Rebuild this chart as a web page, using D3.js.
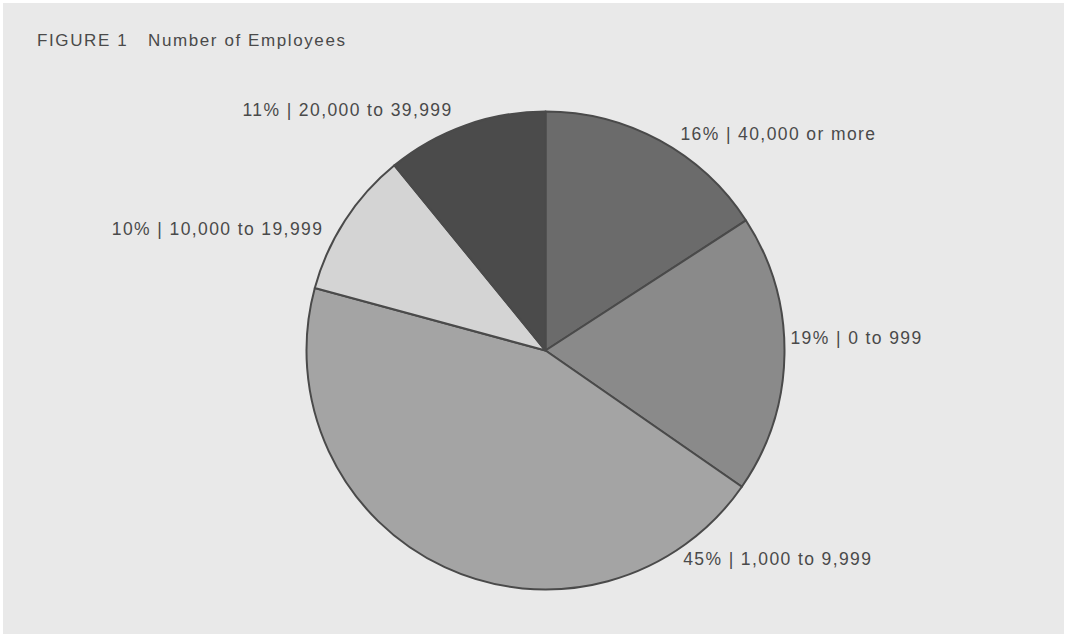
<!DOCTYPE html>
<html>
<head>
<meta charset="utf-8">
<script src="https://cdn.jsdelivr.net/npm/d3@7"></script>
<style>
  html, body { margin: 0; padding: 0; background: #ffffff; }
  svg { display: block; }
  text { font-family: "Liberation Sans", Arial, sans-serif; }
</style>
</head>
<body>
<svg id="chart" width="1067" height="637"></svg>
<script>
// Employee-size bands, clockwise from 12 o'clock
const categories = ["40,000 or more", "0 to 999", "1,000 to 9,999", "10,000 to 19,999", "20,000 to 39,999"];
const percents = [16, 19, 45, 10, 11];
const fills = ["#6b6b6b", "#8a8a8a", "#a4a4a4", "#d4d4d4", "#4b4b4b"];
const title = ["FIGURE 1", "Number of Employees"];

const W = 1067, H = 637;
const cx = 545.5, cy = 350.5, radius = 239;

const svg = d3.select("#chart");

// panel
svg.append("rect").attr("x", 3).attr("y", 3).attr("width", W - 6).attr("height", H - 6)
  .attr("fill", "#e9e9e9");

// title
const t = svg.append("text").attr("x", 37).attr("y", 46)
  .attr("font-size", 17).attr("letter-spacing", 1.6).attr("fill", "#4a4a4a");
t.append("tspan").text(title[0]);
t.append("tspan").attr("x", 148).text(title[1]);

const pie = d3.pie().sort(null).value(d => d);
const arcs = pie(percents);
const arc = d3.arc().innerRadius(0).outerRadius(radius);

const g = svg.append("g").attr("transform", `translate(${cx},${cy})`);

g.selectAll("path.slice").data(arcs).join("path")
  .attr("class", "slice")
  .attr("d", arc)
  .attr("fill", (d, i) => fills[i])
  .attr("stroke", "#4a4a4a")
  .attr("stroke-width", 2)
  .attr("stroke-linejoin", "round");

// labels: placed beside the rim; where along the slice each sits (0..1) and a small nudge
const labelAlong = [0.5, 0.5, 0.135, 0.5, 0.5];
const labelNudge = [[17, 2], [-2, -15], [1, 4], [-15, 14], [-10, -6]];
const labelR = radius + 8;

g.selectAll("text.lbl").data(arcs).join("text")
  .attr("class", "lbl")
  .each(function(d, i) {
    const a = d.startAngle + (d.endAngle - d.startAngle) * labelAlong[i];
    const x = Math.sin(a) * labelR + labelNudge[i][0];
    const y = -Math.cos(a) * labelR + labelNudge[i][1];
    const right = Math.sin(a) > 0;
    d3.select(this)
      .attr("x", x).attr("y", y)
      .attr("text-anchor", right ? "start" : "end")
      .attr("dominant-baseline", "middle")
      .attr("font-size", 17.5)
      .attr("letter-spacing", 1.4)
      .attr("fill", "#4a4a4a")
      .text(`${percents[i]}% | ${categories[i]}`);
  });
</script>
</body>
</html>
